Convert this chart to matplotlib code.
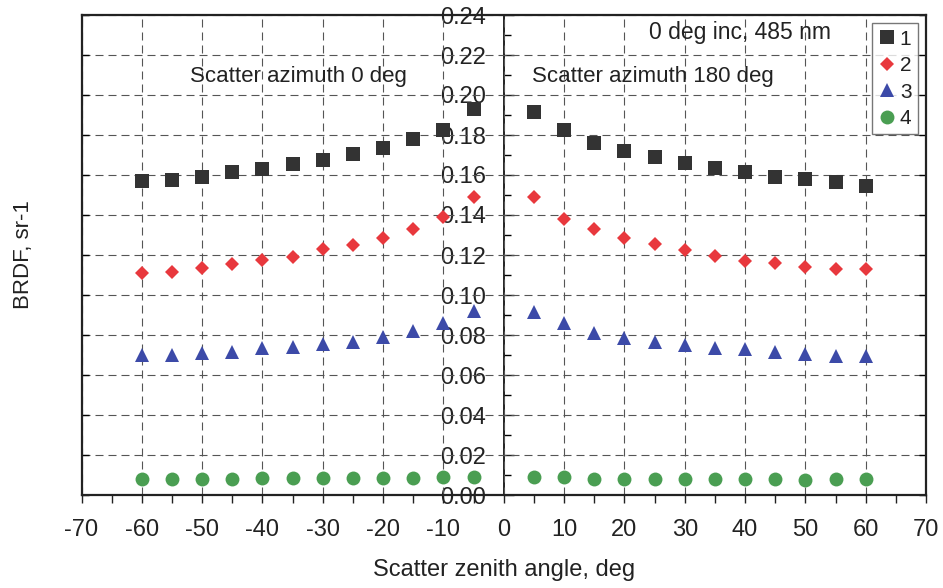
import matplotlib
matplotlib.use("Agg")
import matplotlib.pyplot as plt
from matplotlib.ticker import MultipleLocator, FormatStrFormatter
import numpy as np

plt.rcParams['font.family'] = ['Liberation Sans', 'DejaVu Sans']
plt.rcParams['axes.unicode_minus'] = False

# ---- data ----
angles = [-60, -55, -50, -45, -40, -35, -30, -25, -20, -15, -10, -5,
          5, 10, 15, 20, 25, 30, 35, 40, 45, 50, 55, 60]

series1 = [0.1570, 0.1575, 0.1590, 0.1613, 0.1628, 0.1653, 0.1675, 0.1705, 0.1733, 0.1780, 0.1825, 0.1930,
           0.1917, 0.1825, 0.1762, 0.1720, 0.1688, 0.1658, 0.1637, 0.1613, 0.1592, 0.1578, 0.1563, 0.1547]
series2 = [0.1108, 0.1117, 0.1133, 0.1153, 0.1175, 0.1192, 0.1228, 0.1250, 0.1287, 0.1330, 0.1388, 0.1488,
           0.1488, 0.1380, 0.1330, 0.1287, 0.1255, 0.1225, 0.1195, 0.1172, 0.1158, 0.1142, 0.1128, 0.1128]
series3 = [0.0700, 0.0700, 0.0712, 0.0717, 0.0733, 0.0738, 0.0753, 0.0767, 0.0788, 0.0822, 0.0858, 0.0920,
           0.0913, 0.0858, 0.0808, 0.0787, 0.0763, 0.0750, 0.0733, 0.0728, 0.0713, 0.0705, 0.0697, 0.0697]
series4 = [0.0082, 0.0082, 0.0082, 0.0082, 0.0087, 0.0087, 0.0087, 0.0085, 0.0085, 0.0085, 0.0092, 0.0092,
           0.0092, 0.0092, 0.0080, 0.0080, 0.0080, 0.0080, 0.0080, 0.0080, 0.0080, 0.0075, 0.0080, 0.0080]

series_labels = ['1', '2', '3', '4']
x_ticks = list(range(-70, 71, 10))
y_ticks = [0.00, 0.02, 0.04, 0.06, 0.08, 0.10, 0.12, 0.14, 0.16, 0.18, 0.20, 0.22, 0.24]

title_text = "0 deg inc, 485 nm"
left_text = "Scatter azimuth 0 deg"
right_text = "Scatter azimuth 180 deg"
x_label = "Scatter zenith angle, deg"
y_label = "BRDF, sr-1"

# ---- figure ----
W, H = 943, 588
fig = plt.figure(figsize=(W / 100, H / 100), dpi=100)
ax = fig.add_axes([81.5 / W, 93 / H, 844.5 / W, 480 / H])

ax.set_xlim(-70, 70)
ax.set_ylim(0, 0.24)

styles = [
    dict(marker='s', color='#333333', ms=10.5),
    dict(marker='D', color='#e8383d', ms=7),
    dict(marker='^', color='#3c4aa8', ms=10.5),
    dict(marker='o', color='#4a9e52', ms=10),
]
for vals, lab, st in zip([series1, series2, series3, series4], series_labels, styles):
    ax.plot(angles, vals, linestyle='none', marker=st['marker'], color=st['color'],
            markersize=st['ms'], markeredgewidth=0, label=lab, zorder=3)

# grid
ax.set_xticks(x_ticks)
ax.set_yticks(y_ticks)
ax.xaxis.set_minor_locator(MultipleLocator(5))
ax.grid(True, which='major', linestyle=(0, (7.2, 4.5)), color='#555555', linewidth=0.8)
ax.set_axisbelow(True)

for s in ax.spines.values():
    s.set_linewidth(1.6)
    s.set_color('#222222')

ax.tick_params(axis='x', which='both', direction='out', length=6, width=1, pad=11,
               labelsize=17, colors='#222222')
ax.tick_params(axis='y', which='both', left=True, right=True, direction='in', length=5,
               width=1, labelleft=False, labelright=False)

# central y axis with labels
sec = ax.secondary_yaxis(0.5)
sec.set_alignment('left')
sec.set_yticks(y_ticks)
sec.yaxis.set_major_formatter(FormatStrFormatter('%.2f'))
sec.yaxis.set_minor_locator(MultipleLocator(0.01))
sec.spines['left'].set_linewidth(1.4)
sec.spines['left'].set_color('#222222')
sec.tick_params(axis='y', which='major', direction='in', length=7, width=1, pad=13,
                labelsize=17, colors='#222222')
sec.tick_params(axis='y', which='minor', direction='in', length=5, width=1)

ax.set_xlabel(x_label, fontsize=17, color='#222222', labelpad=13)
ax.set_ylabel(y_label, fontsize=16, color='#222222')
ax.yaxis.set_label_coords(-0.056, 0.5)

ax.text(39.1, 0.231, title_text, fontsize=16.5, ha='center', va='center', color='#222222')
ax.text(-34.0, 0.209, left_text, fontsize=16, ha='center', va='center', color='#222222')
ax.text(24.8, 0.209, right_text, fontsize=16, ha='center', va='center', color='#222222')

leg = ax.legend(loc='upper right', fontsize=15, frameon=True, fancybox=False,
                edgecolor='#555555', handletextpad=0.15, handlelength=0.9,
                borderpad=0.3, labelspacing=0.36, borderaxespad=0.4,
                markerscale=1.0)
leg.get_frame().set_linewidth(1.0)
for t in leg.get_texts():
    t.set_color('#222222')

fig.savefig('out.png', dpi=100)
